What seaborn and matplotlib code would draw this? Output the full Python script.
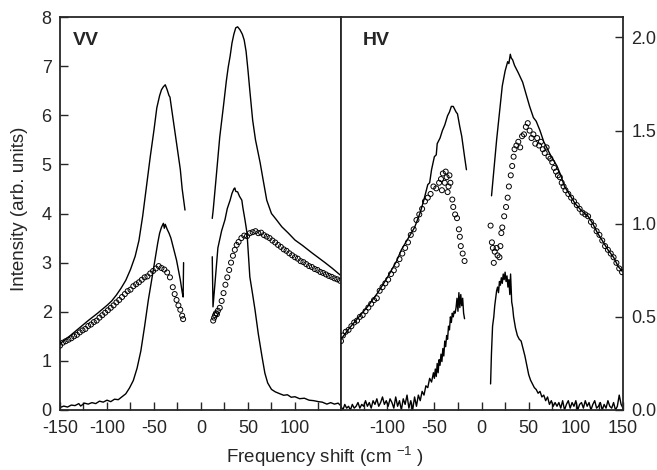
import matplotlib
matplotlib.use("Agg")
import matplotlib.pyplot as plt
from matplotlib.ticker import FixedLocator
import seaborn as sns

sns.set_style("ticks")
plt.rcParams["font.family"] = ["Liberation Sans", "DejaVu Sans"]
plt.rcParams["mathtext.default"] = "regular"
plt.rcParams["axes.unicode_minus"] = False
plt.rcParams["font.size"] = 13

# ---------------- VV panel (left axis, 0-8) ----------------
# broad wing, thin line
vv_wing_x1 = [-150, -140, -130, -120, -110, -100, -95, -90, -85, -80, -75, -70, -66, -62, -58,
              -54, -50, -47, -44, -42, -40, -38, -36, -34, -33, -31, -28, -25, -22, -20, -17]
vv_wing_y1 = [1.35, 1.50, 1.66, 1.82, 1.97, 2.13, 2.22, 2.34, 2.48, 2.64, 2.86, 3.13, 3.45, 3.95, 4.55,
              5.15, 5.70, 6.15, 6.40, 6.52, 6.58, 6.62, 6.52, 6.40, 6.37, 6.10, 5.70, 5.30, 4.90, 4.50, 4.07]
vv_wing_x2 = [12, 13, 16, 20, 24, 27, 29, 31, 33, 35, 37, 39, 41.5, 44, 46, 48, 50, 52, 55, 58,
              63, 66, 70, 75, 80, 86, 93, 100, 108, 118, 125, 132, 140, 148]
vv_wing_y2 = [3.90, 4.07, 4.70, 5.56, 6.20, 6.70, 6.98, 7.20, 7.47, 7.65, 7.78, 7.80, 7.74, 7.65, 7.53, 7.30, 6.92, 6.50, 5.90, 5.50,
              5.03, 4.70, 4.27, 4.00, 3.88, 3.73, 3.60, 3.46, 3.35, 3.20, 3.10, 3.00, 2.88, 2.75]

# narrow component, solid line
vv_peak_x1 = [-150, -146, -142, -138, -134, -130, -128, -124, -120, -116, -112, -108, -104, -100, -96, -92,
              -88, -84, -80, -76, -72, -68, -64, -60, -56, -52, -49, -46, -44, -42, -40, -39, -38, -36,
              -34, -32, -30, -28, -26, -24, -22, -20, -19, -18.5]
vv_peak_y1 = [0.05, 0.08, 0.06, 0.10, 0.09, 0.13, 0.08, 0.14, 0.12, 0.15, 0.13, 0.18, 0.16, 0.20, 0.17, 0.22,
              0.21, 0.27, 0.33, 0.45, 0.60, 0.85, 1.20, 1.70, 2.24, 2.70, 3.05, 3.40, 3.60, 3.72, 3.80, 3.70, 3.78, 3.68,
              3.60, 3.50, 3.35, 3.20, 3.05, 2.85, 2.65, 2.40, 2.30, 3.00]
vv_peak_x2 = [12, 12.8, 15, 18, 22, 25.5, 28, 31, 33, 35, 36, 37, 39, 41, 43.5, 44.5, 47, 49, 52, 55,
              57.5, 61, 65, 68, 71, 75, 79, 84, 88, 92, 96, 100, 105, 110, 115, 120, 125, 129, 134,
              138, 142, 146, 148]
vv_peak_y2 = [3.12, 2.10, 2.60, 3.30, 3.65, 3.87, 4.10, 4.27, 4.41, 4.50, 4.52, 4.45, 4.44, 4.35, 4.27, 4.13, 3.85, 3.60, 2.71, 2.35,
              2.04, 1.55, 1.08, 0.75, 0.55, 0.42, 0.37, 0.33, 0.30, 0.31, 0.26, 0.27, 0.23, 0.24, 0.20, 0.19, 0.17, 0.16, 0.12,
              0.15, 0.12, 0.14, 0.10]

# open circles
vv_dots_x1 = [-150, -147, -144, -141, -138, -135, -132, -129, -126, -123, -120, -117, -114, -111, -108, -105,
              -102, -99, -96, -93, -90, -87, -84, -81, -78, -75, -72, -69, -66, -63, -60, -57, -54, -51,
              -48, -45, -42, -39, -36, -33, -30, -28, -26, -24, -22, -20, -19]
vv_dots_y1 = [1.31, 1.37, 1.40, 1.43, 1.46, 1.50, 1.53, 1.58, 1.62, 1.65, 1.71, 1.74, 1.79, 1.82, 1.88, 1.93,
              1.98, 2.03, 2.08, 2.13, 2.19, 2.24, 2.30, 2.36, 2.42, 2.45, 2.52, 2.56, 2.60, 2.65, 2.70, 2.72, 2.78, 2.83,
              2.88, 2.93, 2.89, 2.86, 2.80, 2.70, 2.50, 2.36, 2.24, 2.13, 2.04, 1.92, 1.85]
vv_dots_x2 = [13, 14, 15, 16, 17, 18, 20, 22, 24, 26, 28, 30, 32, 34, 36, 38, 40, 43, 46, 49, 52, 55, 58, 61,
              64, 67, 70, 73, 76, 79, 82, 85, 88, 91, 94, 97, 100, 103, 106, 109, 112, 115, 118, 121, 124,
              127, 130, 133, 136, 139, 142, 145, 148]
vv_dots_y2 = [1.82, 1.88, 1.93, 1.97, 1.95, 2.02, 2.08, 2.22, 2.38, 2.55, 2.70, 2.85, 3.00, 3.14, 3.26, 3.36, 3.42, 3.50, 3.55, 3.54, 3.60, 3.62, 3.64, 3.60,
              3.61, 3.56, 3.53, 3.50, 3.45, 3.41, 3.36, 3.32, 3.27, 3.24, 3.19, 3.15, 3.11, 3.08, 3.03, 3.01, 2.97, 2.93, 2.91, 2.87, 2.85,
              2.81, 2.79, 2.76, 2.73, 2.71, 2.68, 2.66, 2.63]

# ---------------- HV panel (right axis, 0-2) ----------------
hv_wing_x1 = [-149, -140, -130, -120, -110, -100, -90, -85, -78, -71, -65, -61, -57, -55, -53, -50, -48, -47,
              -44, -41.5, -39, -36, -34, -32, -30, -29, -27, -25.5, -23, -21, -18, -16]
hv_wing_y1 = [0.38, 0.44, 0.50, 0.56, 0.63, 0.71, 0.80, 0.86, 0.92, 0.98, 1.06, 1.13, 1.21, 1.22, 1.29, 1.36, 1.37, 1.43,
              1.46, 1.50, 1.53, 1.58, 1.60, 1.63, 1.63, 1.62, 1.60, 1.59, 1.52, 1.47, 1.36, 1.29]
hv_wing_x2 = [10.6, 16, 22, 25, 27.7, 29, 30.5, 31.5, 33, 35, 39, 43.6, 47, 51, 55, 58, 62, 66, 69, 74,
              80, 84, 88, 93, 99, 106, 113, 118, 123, 128, 134, 140, 145, 150]
hv_wing_y2 = [1.15, 1.45, 1.74, 1.82, 1.87, 1.86, 1.91, 1.89, 1.88, 1.85, 1.81, 1.76, 1.70, 1.63, 1.57, 1.55, 1.50, 1.44, 1.41, 1.36,
              1.31, 1.26, 1.20, 1.16, 1.11, 1.07, 1.04, 1.00, 0.95, 0.91, 0.86, 0.82, 0.77, 0.74]

hv_peak_x1 = [-149, -147, -145, -143, -141, -139, -137, -135, -133, -131, -129, -127, -125, -123, -121, -119,
              -117, -115, -113, -111, -109, -107, -105, -103, -101, -99, -97, -95, -93, -91, -89, -87, -85, -83,
              -81, -79, -77, -75, -73, -71, -69, -67, -65, -63, -61, -59, -57, -55, -53, -51, -50, -49, -48,
              -47, -46, -45, -44, -43, -42, -41, -40, -39, -38, -37, -36, -35, -34, -33, -32, -31, -30, -29,
              -28, -27, -26, -25, -24, -23, -22, -21, -20, -19, -18]
hv_peak_y1 = [0.02, 0.00, 0.03, 0.01, 0.02, 0.00, 0.03, 0.01, 0.02, 0.04, 0.01, 0.03, 0.02, 0.05, 0.02, 0.04,
              0.01, 0.05, 0.03, 0.06, 0.02, 0.04, 0.07, 0.03, 0.05, 0.02, 0.06, 0.04, 0.01, 0.07, 0.02, 0.05, 0.00, 0.06,
              0.03, 0.08, 0.01, 0.05, 0.00, 0.07, 0.02, 0.08, 0.05, 0.10, 0.08, 0.13, 0.12, 0.17, 0.15, 0.20, 0.17, 0.22, 0.18,
              0.25, 0.20, 0.27, 0.24, 0.30, 0.26, 0.33, 0.29, 0.37, 0.34, 0.40, 0.38, 0.45, 0.43, 0.50, 0.47, 0.52, 0.50, 0.53,
              0.52, 0.55, 0.60, 0.53, 0.63, 0.55, 0.62, 0.56, 0.60, 0.52, 0.49]
hv_peak_x2 = [9.6, 10.5, 11.7, 13, 14, 15, 16, 17, 18, 19, 20, 21, 22, 23, 24, 25, 26, 27, 28, 29, 30, 30.8,
              32, 33, 34, 35, 36, 37, 38, 40, 42, 44, 46, 48, 50, 52, 54, 56, 58, 60, 62, 64, 66, 68, 70, 72,
              74, 76, 78, 80, 82, 84, 86, 88, 90, 92, 94, 96, 98, 100, 102, 104, 106, 108, 110, 112, 114,
              116, 118, 120, 122, 124, 126, 128, 130, 132, 134, 136, 138, 140, 142, 144, 146, 148, 150]
hv_peak_y2 = [0.14, 0.30, 0.45, 0.50, 0.56, 0.60, 0.64, 0.66, 0.63, 0.69, 0.67, 0.71, 0.68, 0.73, 0.70, 0.74, 0.69, 0.72, 0.66, 0.70, 0.62, 0.73,
              0.58, 0.55, 0.50, 0.47, 0.44, 0.42, 0.40, 0.38, 0.37, 0.33, 0.29, 0.24, 0.19, 0.16, 0.14, 0.12, 0.11, 0.09, 0.10, 0.07, 0.08, 0.05, 0.07, 0.03,
              0.05, 0.02, 0.04, 0.02, 0.04, 0.01, 0.05, 0.00, 0.03, 0.05, 0.01, 0.04, 0.02, 0.05, 0.00, 0.03, 0.04, 0.01, 0.05, 0.02, 0.04,
              0.00, 0.03, 0.05, 0.01, 0.02, 0.04, 0.00, 0.03, 0.01, 0.05, 0.02, 0.01, 0.04, 0.00, 0.02, 0.08, 0.03, 0.01]

hv_dots_x1 = [-149, -147, -144, -141, -138, -135, -132, -129, -126, -123, -120, -117, -114, -111, -108, -105,
              -102, -99, -96, -93, -90, -87, -84, -81, -78, -75, -72, -69, -66, -63, -60, -57, -54, -51,
              -48, -45, -43, -42, -41, -39, -38, -37, -36, -35, -34, -33, -31, -30, -28, -26, -24, -23,
              -22, -20, -18]
hv_dots_y1 = [0.37, 0.40, 0.42, 0.43, 0.45, 0.47, 0.48, 0.50, 0.51, 0.53, 0.55, 0.57, 0.59, 0.60, 0.64, 0.66,
              0.68, 0.70, 0.73, 0.75, 0.78, 0.81, 0.84, 0.87, 0.90, 0.94, 0.97, 1.02, 1.05, 1.08, 1.12, 1.14, 1.16, 1.20,
              1.19, 1.22, 1.24, 1.18, 1.27, 1.22, 1.28, 1.25, 1.17, 1.20, 1.26, 1.22, 1.13, 1.09, 1.05, 1.03, 0.97, 0.93,
              0.88, 0.84, 0.80]
hv_dots_x2 = [9.6, 11, 12, 13, 14, 16, 17, 19, 20, 21, 22, 24, 26, 27.7, 29, 31, 32.5, 34, 35, 37, 39, 41,
              43, 45, 47, 49, 51, 53, 55, 57, 59, 61, 63, 65, 67, 69, 71, 73, 75, 77, 79, 81, 83, 85, 87,
              89, 92, 95, 98, 101, 104, 107, 110, 113, 116, 119, 122, 125, 128, 131, 134, 137, 140, 143,
              146, 149]
hv_dots_y2 = [0.99, 0.90, 0.87, 0.79, 0.85, 0.87, 0.83, 0.82, 0.88, 0.95, 0.98, 1.04, 1.09, 1.14, 1.20, 1.26, 1.31, 1.36, 1.40, 1.42, 1.44, 1.41,
              1.47, 1.48, 1.52, 1.54, 1.50, 1.46, 1.48, 1.43, 1.46, 1.42, 1.44, 1.40, 1.38, 1.41, 1.36, 1.35, 1.33, 1.30, 1.28, 1.26, 1.25, 1.22, 1.20,
              1.18, 1.16, 1.14, 1.12, 1.10, 1.08, 1.06, 1.05, 1.04, 1.01, 0.99, 0.96, 0.94, 0.91, 0.88, 0.86, 0.84, 0.82, 0.79,
              0.76, 0.74]

vv_xticks = [-150, -100, -50, 0, 50, 100]
hv_xticks = [-100, -50, 0, 50, 100, 150]
minor_xticks = [-125, -75, -25, 25, 75, 125]
vv_yticks = [0, 1, 2, 3, 4, 5, 6, 7, 8]
hv_yticks = [0.0, 0.5, 1.0, 1.5, 2.0]


fig = plt.figure(figsize=(6.57, 4.70), dpi=100)
axL = fig.add_axes([60 / 657, 60 / 470, 281 / 657, 393 / 470])
axR = fig.add_axes([341 / 657, 60 / 470, 282 / 657, 393 / 470])

line_kw = dict(color="black", lw=1.0, estimator=None, sort=False)
dot_kw = dict(marker="o", s=13, facecolor="none", edgecolor="black", linewidth=0.7, zorder=3)

for xs, ys in [(vv_wing_x1, vv_wing_y1), (vv_wing_x2, vv_wing_y2),
               (vv_peak_x1, vv_peak_y1), (vv_peak_x2, vv_peak_y2)]:
    sns.lineplot(x=xs, y=ys, ax=axL, **line_kw)
for xs, ys in [(vv_dots_x1, vv_dots_y1), (vv_dots_x2, vv_dots_y2)]:
    sns.scatterplot(x=xs, y=ys, ax=axL, **dot_kw)

for xs, ys in [(hv_wing_x1, hv_wing_y1), (hv_wing_x2, hv_wing_y2),
               (hv_peak_x1, hv_peak_y1), (hv_peak_x2, hv_peak_y2)]:
    sns.lineplot(x=xs, y=ys, ax=axR, **line_kw)
for xs, ys in [(hv_dots_x1, hv_dots_y1), (hv_dots_x2, hv_dots_y2)]:
    sns.scatterplot(x=xs, y=ys, ax=axR, **dot_kw)

axL.set_xlim(-150, 149)
axL.set_ylim(0, 8)
axL.set_xticks(vv_xticks)
axL.set_yticks(vv_yticks)
axL.xaxis.set_minor_locator(FixedLocator(minor_xticks))

axR.set_xlim(-149, 150)
axR.set_ylim(0, 2.11)
axR.set_xticks(hv_xticks)
axR.xaxis.set_minor_locator(FixedLocator(minor_xticks))
axR.yaxis.tick_right()
axR.set_yticks(hv_yticks)
axR.set_yticklabels([f"{v:.1f}" for v in hv_yticks])

for ax in (axL, axR):
    ax.tick_params(which="both", direction="in", length=6, width=1, labelsize=13)
    ax.tick_params(axis="x", pad=7)
    ax.tick_params(axis="y", pad=6)
    for sp in ax.spines.values():
        sp.set_visible(True)
        sp.set_linewidth(1.3)
    ax.set_xlabel("")
    ax.set_ylabel("")

axL.text(0.045, 0.94, "VV", transform=axL.transAxes, fontsize=14, fontweight="bold", va="center")
axR.text(0.078, 0.94, "HV", transform=axR.transAxes, fontsize=14, fontweight="bold", va="center")

fig.text(325 / 657, 1 - 457 / 470, "Frequency shift (cm $^{-1}$ )", ha="center", va="center", fontsize=13.5)
fig.text(20 / 657, 1 - 209 / 470, "Intensity (arb. units)", ha="center", va="center", rotation=90, fontsize=13.5)

fig.savefig("out.png", dpi=100)
